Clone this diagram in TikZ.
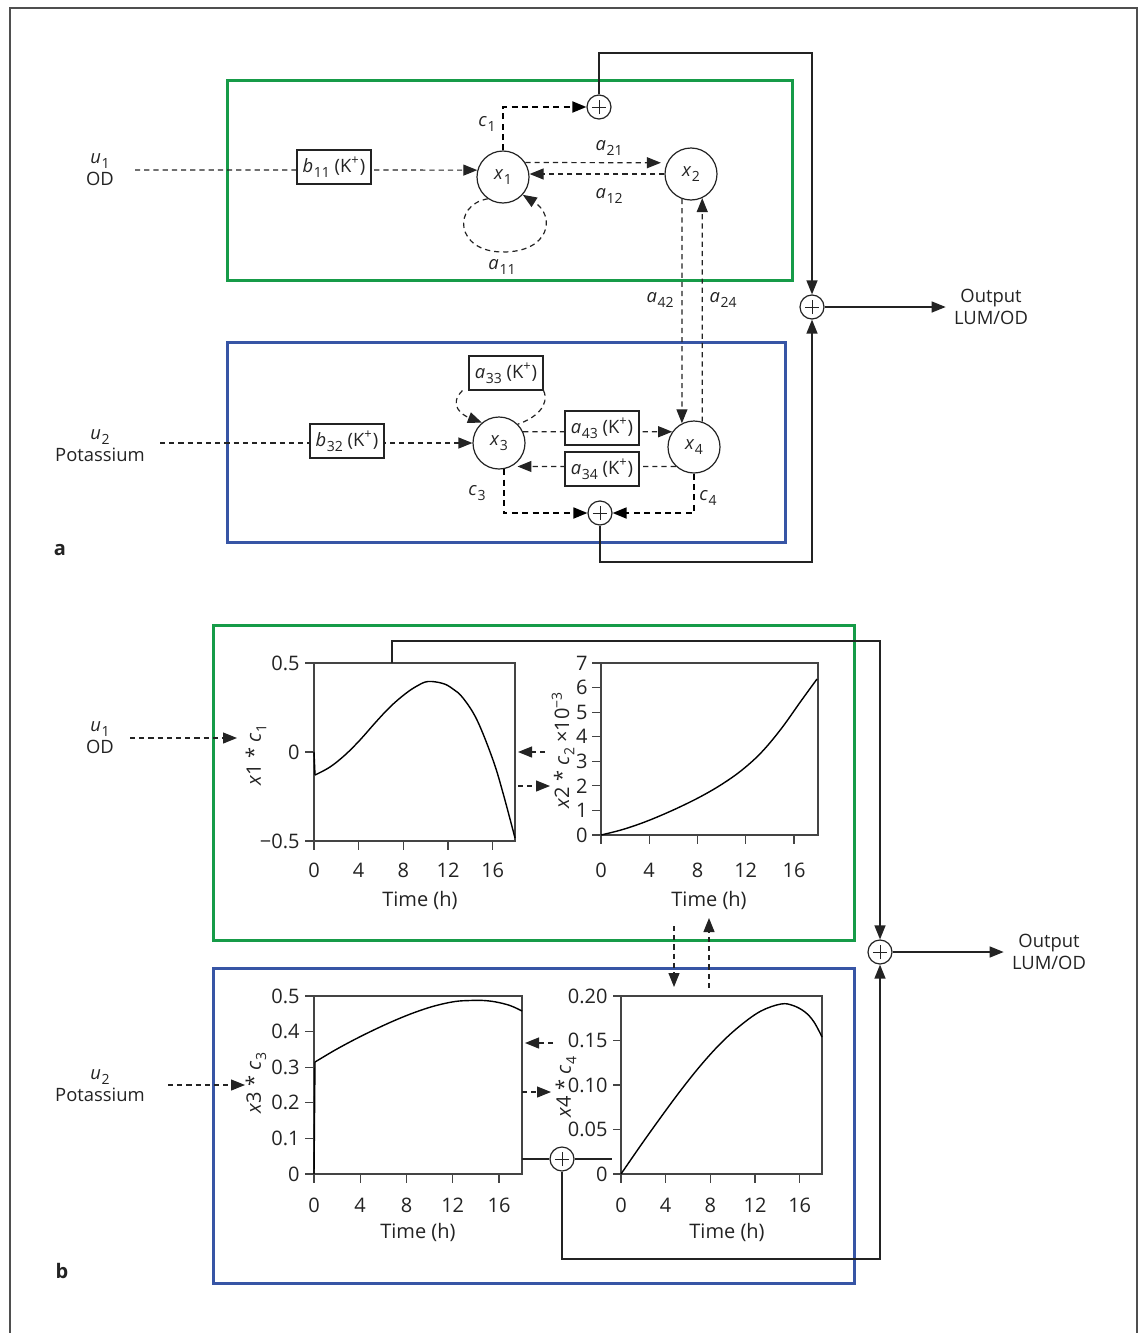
\documentclass[tikz,border=0pt]{standalone}
\usepackage{fontspec}
\setmainfont{Open Sans}
\usetikzlibrary{arrows.meta}
\definecolor{boxgreen}{RGB}{22,155,72}
\definecolor{boxblue}{RGB}{55,85,165}
\definecolor{ink}{RGB}{35,35,35}
\newcommand\vsub[2]{\textit{#1}\kern0.3pt\raisebox{-0.5ex}{\fontsize{7}{7}\selectfont #2}}
\newcommand\kplus{(K\textsuperscript{+})}
\begin{document}
\begin{tikzpicture}[x=0.5pt,y=-0.5pt,
 >={Triangle[length=7pt,width=5.5pt]},
 every node/.style={text=ink, font=\fontsize{9.2}{11}\selectfont},
 lab/.style={inner sep=0pt},
 dline/.style={draw=ink,line width=0.6pt,dash pattern=on 2.6pt off 2pt},
 cline/.style={draw=black,line width=0.9pt,dash pattern=on 3pt off 2.2pt},
 sline/.style={draw=ink,line width=0.7pt},
 statenode/.style={circle,draw=ink,line width=0.6pt,minimum size=26pt,inner sep=0pt},
 sumnode/.style={circle,draw=ink,line width=0.6pt,minimum size=12pt,inner sep=0pt,fill=white,
   path picture={\draw[line width=0.5pt] ([xshift=-3.6pt]path picture bounding box.center) -- ([xshift=3.6pt]path picture bounding box.center);
                 \draw[line width=0.5pt] ([yshift=-3.6pt]path picture bounding box.center) -- ([yshift=3.6pt]path picture bounding box.center);}},
 kbox/.style={draw=ink,line width=0.6pt,fill=white,inner sep=1.5pt,minimum height=17pt,minimum width=37pt},
 gframe/.style={draw=boxgreen,line width=1.5pt},
 bframe/.style={draw=boxblue,line width=1.5pt},
 axisline/.style={draw=ink!85,line width=0.6pt},
 curve/.style={draw=black,line width=0.7pt},
 tick/.style={font=\fontsize{10}{12}\selectfont,inner sep=1pt},
 panel/.style={font=\fontsize{10}{12}\selectfont\bfseries,inner sep=0pt}
]
\useasboundingbox (0,0) rectangle (1143,1333);
% outer frame
\draw[draw=ink!80,line width=0.8pt] (10,1333) -- (10,8) -- (1137,8) -- (1137,1333);

% ================= part a =================
\draw[gframe] (227,80) rectangle (792,280);
\draw[bframe] (227,342) rectangle (785,542);
\node[panel] (pa) at (60,550) {a};

\node[statenode] (x1) at (503,177) {\vsub{x}{1}};
\node[statenode] (x2) at (691,174) {\vsub{x}{2}};
\node[statenode] (x3) at (499,443) {\vsub{x}{3}};
\node[statenode] (x4) at (694,447) {\vsub{x}{4}};
\node[sumnode] (s1) at (599,107) {};
\node[sumnode] (s2) at (812,307) {};
\node[sumnode] (s3) at (600,513) {};

\node[lab,align=center] (u1a) at (100,170) {\vsub{u}{1}\\OD};
\node[lab,align=center] (u2a) at (100,446) {\vsub{u}{2}\\Potassium};
\node[lab,align=center] (outa) at (991,307) {Output\\LUM/OD};

\coordinate (u1s) at (135,170);
\coordinate (u2s) at (160,443);
\draw[dline,->] (u1s) -- (x1.165);
\draw[dline,->] (u2s) -- (x3.180);

% x1 <-> x2
\draw[dline,->] (x1.33) -- ([xshift=-3pt]x2.155);
\draw[dline,->] (x2.west) -- (x2.west -| x1.east);
\node[lab] (la21) at (609,148) {\vsub{a}{21}};
\node[lab] (la12) at (609,196) {\vsub{a}{12}};
% self loop a11
\draw[dline,->] (x1.-125) .. controls (452,205) and (455,252) .. (503,252) .. controls (550,252) and (556,216) .. (x1.-42);
\node[lab] (la11) at (502,267) {\vsub{a}{11}};
% c1
\draw[cline,->] (x1.north) |- (s1.west);
\node[lab] (lc1) at (487,124) {\vsub{c}{1}};
% x2 <-> x4
\draw[dline,->] (x2.-110) -- (x4.117);
\draw[dline,->] (x4.72) -- (x2.-65);
\node[lab] (la42) at (660,300) {\vsub{a}{42}};
\node[lab] (la24) at (723,300) {\vsub{a}{24}};
% x3 <-> x4
\draw[dline,->] (x3.25) -- (x4.145);
\draw[dline,->] (x4.-133) -- ([xshift=3pt]x3.-62);
\node[kbox] (b11) at (334,167) {\vsub{b}{11} \kplus};
\node[kbox] (b32) at (347,441) {\vsub{b}{32} \kplus};
\node[kbox] (a43) at (602,428) {\vsub{a}{43} \kplus};
\node[kbox] (a34) at (602,469) {\vsub{a}{34} \kplus};
\node[kbox] (a33) at (506,373) {\vsub{a}{33} \kplus};
% a33 loop
\draw[dline,->] ([xshift=-3pt]a33.south west) .. controls (448,405) and (462,415) .. (x3.130);
\draw[dline] (a33.south east) .. controls (550,405) and (536,418) .. (x3.45);
% c3 c4
\draw[cline,->] (x3.-80) |- (s3.west);
\draw[cline,->] (x4.south) |- (s3.east);
\node[lab] (lc3) at (477,493) {\vsub{c}{3}};
\node[lab] (lc4) at (708,498) {\vsub{c}{4}};
% output wiring
\coordinate (ctop) at (812,53);
\coordinate (cbot) at (812,562);
\draw[sline,->] (s1.north) |- (ctop) -- (s2.north);
\draw[sline,->] (s3.south) |- (cbot) -- (s2.south);
\draw[sline,->] (s2.east) -- ([xshift=-4pt]outa.west);

% ================= part b =================
\draw[gframe] (213,625) rectangle (854,940);
\draw[bframe] (213,968) rectangle (854,1283);
\node[panel] (pb) at (62,1271) {b};

\node[lab,align=center] (u1b) at (100,738) {\vsub{u}{1}\\OD};
\node[lab,align=center] (u2b) at (100,1086) {\vsub{u}{2}\\Potassium};
\node[lab,align=center] (outb) at (1049,952) {Output\\LUM/OD};
\node[sumnode] (s4) at (880,952) {};
\node[sumnode] (s5) at (562,1159) {};

% plot 1
\draw[axisline] (314,663) rectangle (515,841);
\foreach \yy/\ll in {663/0.5,752/0,841/−0.5} {
  \draw[axisline] (305,\yy) -- (314,\yy);
  \node[tick,anchor=east] (p1y\yy) at (302,\yy) {\ll};}
\foreach \xx/\ll in {314/0,358.7/4,403.3/8,448/12,492.7/16} {
  \draw[axisline] (\xx,841) -- (\xx,850);
  \node[tick] (p1x\ll) at (\xx,870) {\ll};}
\node[tick] (p1t) at (420,900) {Time (h)};
\node[tick,rotate=90] (p1l) at (256,755) {\textit{x}1 * \vsub{c}{1}};
\draw[curve] (314,752) -- (315,775);
\draw[curve] plot[smooth,tension=0.6] coordinates {(315,775) (330,767) (345,755) (360,740) (375,723) (390,707) (405,694) (417,686) (428,681.5) (443,683.5) (453,689) (463,698) (477,720) (493,760) (503,793) (515,838)};

% plot 2
\draw[axisline] (601,663) rectangle (818,835);
\foreach \k in {0,...,7} {
  \draw[axisline] (592,{835-24.571*\k}) -- (601,{835-24.571*\k});
  \node[tick,anchor=east] (p2y\k) at (590,{835-24.571*\k}) {\k};}
\foreach \xx/\ll in {601/0,649.2/4,697.5/8,745.7/12,794/16} {
  \draw[axisline] (\xx,835) -- (\xx,844);
  \node[tick] (p2x\ll) at (\xx,870) {\ll};}
\node[tick] (p2t) at (709,900) {Time (h)};
\node[tick,rotate=90] (p2l) at (563,750) {\textit{x}2 * \vsub{c}{2} ×10\textsuperscript{−3}};
\draw[curve] plot[smooth,tension=0.6] coordinates {(601,835) (621,830) (641,823.4) (661,815.4) (681,806.4) (701,796.4) (721,784.8) (741,770.8) (761,752.8) (781,729) (801,701) (817,679)};

% plot 3
\draw[axisline] (314,996) rectangle (522,1174);
\foreach \k/\ll in {0/0,1/0.1,2/0.2,3/0.3,4/0.4,5/0.5} {
  \draw[axisline] (305,{1174-35.6*\k}) -- (314,{1174-35.6*\k});
  \node[tick,anchor=east] (p3y\k) at (302,{1174-35.6*\k}) {\ll};}
\foreach \xx/\ll in {314/0,360.2/4,406.5/8,452.7/12,499/16} {
  \draw[axisline] (\xx,1174) -- (\xx,1183);
  \node[tick] (p3x\ll) at (\xx,1205) {\ll};}
\node[tick] (p3t) at (418,1232) {Time (h)};
\node[tick,rotate=90] (p3l) at (256,1083) {\textit{x}3 * \vsub{c}{3}};
\draw[curve] (314,1174) -- (315,1062);
\draw[curve] plot[smooth,tension=0.6] coordinates {(315,1062) (335,1050.1) (355,1039.3) (375,1029.4) (395,1020.3) (415,1012.3) (435,1005.8) (455,1001.5) (470,1000.5) (482,1000.4) (495,1001.8) (510,1005.5) (522,1011)};

% plot 4
\draw[axisline] (621,996) rectangle (822,1174);
\foreach \k/\ll in {0/0,1/0.05,2/0.10,3/0.15,4/0.20} {
  \draw[axisline] (613,{1174-44.5*\k}) -- (621,{1174-44.5*\k});
  \node[tick,anchor=east] (p4y\k) at (610,{1174-44.5*\k}) {\ll};}
\foreach \xx/\ll in {621/0,665.7/4,710.4/8,755/12,799.7/16} {
  \draw[axisline] (\xx,1174) -- (\xx,1183);
  \node[tick] (p4x\ll) at (\xx,1205) {\ll};}
\node[tick] (p4t) at (727,1232) {Time (h)};
\node[tick,rotate=90] (p4l) at (566,1087) {\textit{x}4 * \vsub{c}{4}};
\draw[curve] plot[smooth,tension=0.6] coordinates {(621,1174) (641,1145) (661,1117) (681,1090) (701,1065) (721,1043) (741,1025) (761,1011) (781,1004) (793,1005.5) (805,1012) (814,1022) (822,1037)};

% connectors part b
\coordinate (i1s) at (130,738); \coordinate (i1e) at (237,738);
\coordinate (i2s) at (168,1085); \coordinate (i2e) at (245,1085);
\draw[dline,->] (i1s) -- (i1e);
\draw[dline,->] (i2s) -- (i2e);
\coordinate (q1a) at (545,752); \coordinate (q1b) at (518,752);
\coordinate (q2a) at (518,786); \coordinate (q2b) at (550,786);
\draw[dline,->] (q1a) -- (q1b);
\draw[dline,->] (q2a) -- (q2b);
\coordinate (q3a) at (553,1043); \coordinate (q3b) at (525,1043);
\coordinate (q4a) at (522,1092); \coordinate (q4b) at (551,1092);
\draw[dline,->] (q3a) -- (q3b);
\draw[dline,->] (q4a) -- (q4b);
\coordinate (v1a) at (674,926); \coordinate (v1b) at (674,987);
\coordinate (v2a) at (709,988); \coordinate (v2b) at (709,918);
\draw[dline,->] (v1a) -- (v1b);
\draw[dline,->] (v2a) -- (v2b);
% output wiring b
\coordinate (btop1) at (392,663); \coordinate (btop2) at (392,641); \coordinate (btop3) at (880,641);
\draw[sline,->] (btop1) -- (btop2) -- (btop3) -- (s4.north);
\coordinate (bbot) at (880,1259);
\draw[sline,->] (s5.south) |- (bbot) -- (s4.south);
\draw[sline,->] (s4.east) -- ([xshift=-4pt]outb.west);
\coordinate (h1) at (522,1159); \coordinate (h2) at (612,1159);
\draw[line width=1.2pt,draw=ink] (h1) -- (s5.west);
\draw[line width=1.2pt,draw=ink] (s5.east) -- (h2);
\end{tikzpicture}
\end{document}
